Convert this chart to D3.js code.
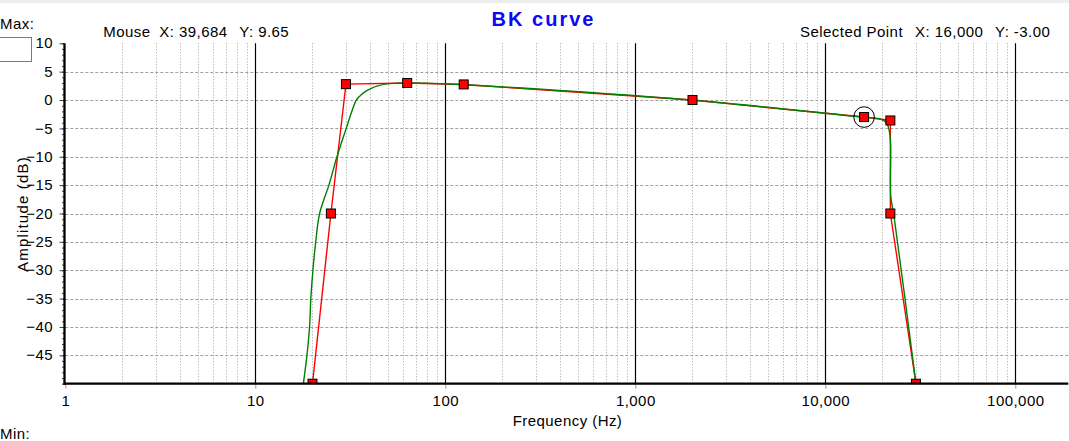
<!DOCTYPE html>
<html>
<head>
<meta charset="utf-8">
<script src="https://cdn.jsdelivr.net/npm/d3@7"></script>
<style>
  html, body { margin: 0; padding: 0; background: #fff; }
  svg { display: block; }
  text { font-family: "Liberation Sans", Arial, sans-serif; font-size: 15px; fill: #000; letter-spacing: 0.45px; }
</style>
</head>
<body>
<svg id="chart" width="1069" height="441"></svg>
<script>
// ---- data ----
const pointFreq = [20, 25, 30, 63, 125, 2000, 16000, 22000, 22000, 30000];
const pointDb   = [-50, -20, 2.8, 3.0, 2.75, 0, -3.0, -3.6, -20, -50];

const curveFreq = [17.9, 18.7, 19.3, 19.6, 20.1, 20.8, 21.8, 24.4, 26.9, 30.1, 32.0, 34.0, 36.0, 38.4, 41.0, 43.7, 49.3, 56, 63, 80, 100, 125, 2000, 16000, 19500, 21000, 21800, 22080, 22120, 23000, 30000];
const curveDb   = [-50, -45, -40, -35, -30, -25, -20, -15, -10, -5, -2.3, 0, 0.9, 1.6, 2.1, 2.45, 2.85, 2.95, 3.0, 2.95, 2.85, 2.7, -0.05, -3.05, -3.35, -4.0, -5.8, -8, -17, -20.5, -50];

const selectedFreq = 16000;
const selectedDb = -3.0;

const xTickValues = [1, 10, 100, 1000, 10000, 100000];
const yTickValues = [-45, -40, -35, -30, -25, -20, -15, -10, -5, 0, 5, 10];
const yGridValues = [-45, -40, -35, -30, -25, -20, -15, -10, -5, 0, 5];
const yMinorValues = d3.range(-50, 11, 1);

const titleText = "BK curve";
const mouseLabel = ["Mouse", "X: 39,684", "Y: 9.65"];
const selectedLabel = ["Selected Point", "X: 16,000", "Y: -3.00"];

// ---- layout ----
const svg = d3.select("#chart");
const pLeft = 65.3, pRight = 1068.3, pTop = 43.3, pBottom = 383.7;
const x = d3.scaleLog().domain([1, Math.pow(10, (pRight - pLeft) / 190)]).range([pLeft, pRight]);
const y = d3.scaleLinear().domain([-50, 10]).range([pBottom, pTop]);

// top strip
svg.append("rect").attr("x", 0).attr("y", 0).attr("width", 1069).attr("height", 3).attr("fill", "#eeeeee");

// clip
svg.append("defs").append("clipPath").attr("id", "plotclip")
  .append("rect").attr("x", pLeft).attr("y", pTop - 12).attr("width", pRight - pLeft).attr("height", pBottom - pTop + 12);

// grid
const grid = svg.append("g");
const allX = x.ticks().filter(v => v > 1);
const isDecade = v => Math.abs(Math.log10(v) - Math.round(Math.log10(v))) < 1e-9;
grid.selectAll("line.vmin").data(allX.filter(v => !isDecade(v))).join("line")
  .attr("x1", d => Math.round(x(d)) + 0.5).attr("x2", d => Math.round(x(d)) + 0.5)
  .attr("y1", pTop).attr("y2", pBottom)
  .attr("stroke", "#a0a0a0").attr("stroke-width", 1).attr("stroke-dasharray", "1,2");
grid.selectAll("line.h").data(yGridValues).join("line")
  .attr("x1", pLeft).attr("x2", pRight)
  .attr("y1", d => Math.round(y(d)) + 0.5).attr("y2", d => Math.round(y(d)) + 0.5)
  .attr("stroke", "#a0a0a0").attr("stroke-width", 1).attr("stroke-dasharray", "3,2");
grid.selectAll("line.vmaj").data(xTickValues.filter(v => v > 1)).join("line")
  .attr("x1", d => Math.round(x(d)) + 0.5).attr("x2", d => Math.round(x(d)) + 0.5)
  .attr("y1", pTop).attr("y2", pBottom)
  .attr("stroke", "#000").attr("stroke-width", 1.2);

// series
const plot = svg.append("g").attr("clip-path", "url(#plotclip)");
const pts = pointFreq.map((f, i) => [f, pointDb[i]]);
const cpts = curveFreq.map((f, i) => [f, curveDb[i]]);

plot.append("path")
  .attr("d", d3.line().x(d => x(d[0])).y(d => y(d[1]))(pts))
  .attr("fill", "none").attr("stroke", "#ff0000").attr("stroke-width", 1.4);
plot.append("path")
  .attr("d", d3.line().x(d => x(d[0])).y(d => y(d[1])).curve(d3.curveCatmullRom.alpha(0.5))(cpts))
  .attr("fill", "none").attr("stroke", "#008000").attr("stroke-width", 1.4);
plot.selectAll("rect.pt").data(pts).join("rect")
  .attr("x", d => x(d[0]) - 4.5).attr("y", d => y(d[1]) - 4.5)
  .attr("width", 9).attr("height", 9)
  .attr("fill", "#ff0000").attr("stroke", "#000").attr("stroke-width", 1);
plot.append("circle")
  .attr("cx", x(selectedFreq)).attr("cy", y(selectedDb)).attr("r", 10.3)
  .attr("fill", "none").attr("stroke", "#000").attr("stroke-width", 1);

// axes
const yMinor = svg.append("g").attr("transform", "translate(64.5,0)")
  .call(d3.axisLeft(y).tickValues(yMinorValues).tickSize(2.5).tickFormat(""));
yMinor.select(".domain").remove();
yMinor.selectAll("line").attr("stroke", "#444");

const yAxis = svg.append("g").attr("transform", "translate(64.5,0)")
  .call(d3.axisLeft(y).tickValues(yTickValues).tickSize(5).tickPadding(6.5).tickFormat(d3.format("d")));
yAxis.select(".domain").remove();
yAxis.selectAll("line").attr("stroke", "#444");
yAxis.selectAll("text").attr("dy", null).attr("y", 4.6)
  .style("font-family", "'Liberation Sans', Arial, sans-serif").style("font-size", "15px").attr("fill", "#000");

const xAxis = svg.append("g").attr("transform", `translate(0,${pBottom})`)
  .call(d3.axisBottom(x).tickValues(xTickValues).tickSize(5).tickFormat(d3.format(",")));
xAxis.select(".domain").remove();
xAxis.selectAll("line").attr("stroke", "#999");
xAxis.selectAll("text").attr("dy", null).attr("y", 22.3)
  .style("font-family", "'Liberation Sans', Arial, sans-serif").style("font-size", "15px").attr("fill", "#000");

svg.append("line").attr("x1", 64.5).attr("x2", 64.5).attr("y1", pTop).attr("y2", pBottom + 1)
  .attr("stroke", "#000").attr("stroke-width", 2.3);
svg.append("line").attr("x1", 63.5).attr("x2", pRight).attr("y1", pBottom).attr("y2", pBottom)
  .attr("stroke", "#000").attr("stroke-width", 2.3);

// titles
svg.append("text").attr("x", 543.5).attr("y", 25.8).attr("text-anchor", "middle")
  .style("font-size", "20px").style("font-weight", "bold").style("fill", "#0a0af5").style("letter-spacing", "2px")
  .text(titleText);

svg.append("text").attr("x", 567.5).attr("y", 426).attr("text-anchor", "middle").text("Frequency (Hz)");
svg.append("text").attr("transform", "translate(27.5,214) rotate(-90)").attr("text-anchor", "middle")
  .style("letter-spacing", "1.2px").text("Amplitude (dB)");

// header readouts
const mouseX = [103.3, 159.3, 239.3];
svg.selectAll("text.mouse").data(mouseLabel).join("text").attr("class", "mouse")
  .attr("x", (d, i) => mouseX[i]).attr("y", 37).text(d => d);
const selX = [800, 915, 995];
svg.selectAll("text.sel").data(selectedLabel).join("text").attr("class", "sel")
  .attr("x", (d, i) => selX[i]).attr("y", 37).text(d => d);

// Max / Min controls
svg.append("text").attr("x", 0).attr("y", 29.3).text("Max:");
svg.append("rect").attr("x", -1).attr("y", 37.5).attr("width", 32.5).attr("height", 24)
  .attr("fill", "#fff").attr("stroke", "#7a7a7a").attr("stroke-width", 1);
svg.append("text").attr("x", 0).attr("y", 438.5).text("Min:");
</script>
</body>
</html>
